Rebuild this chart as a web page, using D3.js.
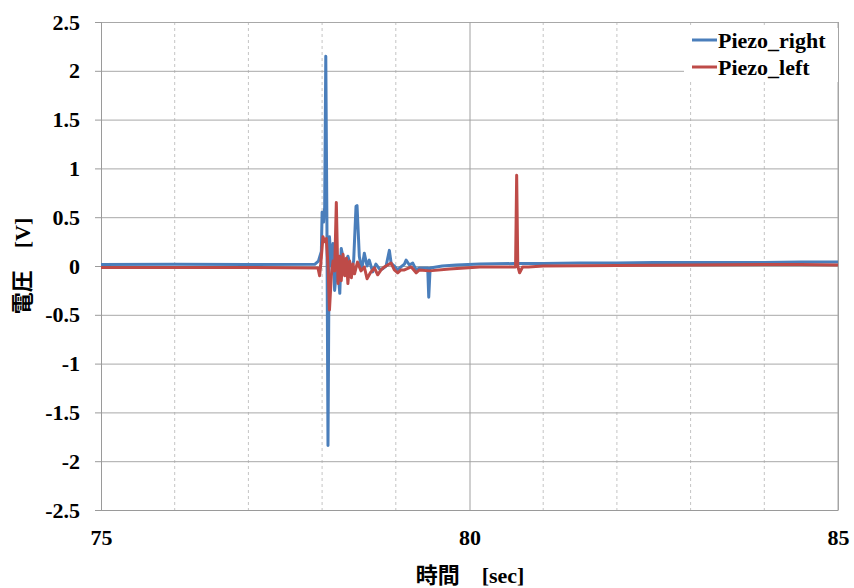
<!DOCTYPE html>
<html>
<head>
<meta charset="utf-8">
<script src="https://cdn.jsdelivr.net/npm/d3@7"></script>
<style>
  body { margin: 0; background: #fff; }
  svg { display: block; }
  text { font-family: "Liberation Serif", "Noto Sans CJK JP", serif; font-weight: bold; fill: #000; }
</style>
</head>
<body>
<svg></svg>
<script>
// series names
let seriesNames = ["Piezo_right", "Piezo_left"];

// Piezo_right : time [sec], voltage [V]
let rightTime = [75, 76, 77, 77.9, 77.95, 77.99, 78.0, 78.02, 78.035, 78.05, 78.065, 78.08, 78.095, 78.1, 78.125, 78.148, 78.17, 78.207, 78.24, 78.26, 78.306, 78.35, 78.397, 78.428, 78.46, 78.474, 78.505, 78.537, 78.573, 78.61, 78.64, 78.686, 78.73, 78.777, 78.82, 78.868, 78.913, 78.936, 78.98, 79.026, 79.07, 79.117, 79.14, 79.185, 79.23, 79.276, 79.32, 79.433, 79.447, 79.466, 79.63, 79.82, 80.14, 80.6, 81, 81.5, 82, 82.5, 83, 83.5, 84, 84.5, 85];
let rightVolt = [0.015, 0.017, 0.015, 0.017, 0.05, 0.15, 0.55, 0.45, 0.6, 2.15, 0.5, -1.84, 0.1, 0.3, 0.0, 0.23, -0.25, 0.05, -0.28, 0.18, 0.0, 0.1, -0.04, 0.05, 0.61, 0.62, 0.1, -0.04, 0.13, 0.0, 0.06, -0.06, 0.02, -0.03, -0.03, 0.0, 0.16, 0.03, 0.0, -0.04, -0.01, 0.02, 0.06, 0.01, 0.03, -0.04, -0.02, -0.02, -0.32, -0.02, 0.0, 0.01, 0.02, 0.025, 0.025, 0.03, 0.03, 0.035, 0.035, 0.035, 0.035, 0.04, 0.04];

// Piezo_left : time [sec], voltage [V]
let leftTime = [75, 76, 77, 77.944, 77.966, 77.98, 78.012, 78.034, 78.057, 78.08, 78.1, 78.125, 78.148, 78.17, 78.193, 78.216, 78.24, 78.26, 78.284, 78.306, 78.33, 78.35, 78.374, 78.397, 78.42, 78.44, 78.48, 78.528, 78.573, 78.61, 78.655, 78.71, 78.754, 78.8, 78.845, 78.89, 78.936, 78.98, 79.026, 79.07, 79.117, 79.21, 79.276, 79.32, 79.457, 79.728, 80.14, 80.6, 80.625, 80.64, 80.655, 80.68, 80.72, 80.8, 81, 82, 83, 84, 84.5, 85];
let leftVolt = [-0.015, -0.015, -0.015, -0.02, -0.1, 0.0, 0.3, 0.25, 0.28, 0.0, -0.45, -0.1, 0.05, -0.05, 0.65, -0.18, 0.1, -0.15, 0.12, -0.1, 0.08, -0.18, 0.05, -0.12, 0.02, -0.08, 0.04, -0.05, -0.01, -0.13, -0.07, -0.02, -0.09, -0.04, -0.01, 0.01, 0.03, -0.04, -0.07, -0.04, -0.04, -0.01, -0.07, -0.04, -0.05, -0.03, -0.01, -0.01, -0.01, 0.93, 0.0, -0.07, -0.01, -0.01, 0.0, 0.005, 0.01, 0.015, 0.015, 0.01];

let xTicks = [75, 80, 85];
let xMinor = [76, 77, 78, 79, 81, 82, 83, 84];
let yTicks = [-2.5, -2, -1.5, -1, -0.5, 0, 0.5, 1, 1.5, 2, 2.5];

let width = 854, height = 588,
    plotLeft = 101, plotRight = 838, plotTop = 22, plotBottom = 510,
    colors = ["#4a7ebb", "#be4b48"];

let xScale = d3.scaleLinear().domain([75, 85]).range([plotLeft, plotRight]),
    yScale = d3.scaleLinear().domain([-2.5, 2.5]).range([plotBottom, plotTop]);

let svg = d3.select("svg").attr("width", width).attr("height", height);

// minor vertical grid (dashed)
svg.append("g")
  .selectAll("line")
  .data(xMinor)
  .enter().append("line")
  .attr("x1", d => xScale(d)).attr("x2", d => xScale(d))
  .attr("y1", plotTop).attr("y2", plotBottom)
  .attr("stroke", "#c4c4c4").attr("stroke-dasharray", "3,3");

// horizontal grid
svg.append("g")
  .attr("transform", `translate(${plotLeft},0)`)
  .call(d3.axisLeft(yScale).tickValues(yTicks).tickSize(-(plotRight - plotLeft)).tickFormat(""))
  .call(g => g.select(".domain").remove())
  .selectAll("line").attr("stroke", "#a8a8a8");

// major vertical grid
svg.append("g")
  .attr("transform", `translate(0,${plotBottom})`)
  .call(d3.axisBottom(xScale).tickValues(xTicks).tickSize(-(plotBottom - plotTop)).tickFormat(""))
  .call(g => g.select(".domain").remove())
  .selectAll("line").attr("stroke", "#a0a0a0");

// axes
let yAxis = svg.append("g")
  .attr("transform", `translate(${plotLeft},0)`)
  .call(d3.axisLeft(yScale).tickValues(yTicks).tickSize(6).tickPadding(15).tickFormat(d => d))
  .attr("font-family", null).attr("font-size", 22);
yAxis.select(".domain").attr("stroke", "#9a9a9a");
yAxis.selectAll("line").attr("stroke", "#9a9a9a");

let xAxis = svg.append("g")
  .attr("transform", `translate(0,${plotBottom})`)
  .call(d3.axisBottom(xScale).tickValues(xTicks).tickSize(0).tickPadding(19))
  .attr("font-family", null).attr("font-size", 22);
xAxis.select(".domain").attr("stroke", "#9a9a9a");

// right border
svg.append("line")
  .attr("x1", plotRight).attr("x2", plotRight).attr("y1", plotTop).attr("y2", plotBottom)
  .attr("stroke", "#a8a8a8");

// lines
let line = d3.line().x(d => xScale(d[0])).y(d => yScale(d[1]));
let series = [d3.zip(rightTime, rightVolt), d3.zip(leftTime, leftVolt)];

series.forEach((s, i) => {
  svg.append("path")
    .datum(s)
    .attr("d", line)
    .attr("fill", "none")
    .attr("stroke", colors[i])
    .attr("stroke-width", 3)
    .attr("stroke-linejoin", "round");
});

// legend
let legend = svg.append("g");
legend.append("rect")
  .attr("x", 684).attr("y", 28).attr("width", plotRight - 684).attr("height", 54)
  .attr("fill", "#fff");
seriesNames.forEach((name, i) => {
  let y = 40 + i * 27;
  legend.append("line")
    .attr("x1", 692).attr("x2", 717).attr("y1", y).attr("y2", y)
    .attr("stroke", colors[i]).attr("stroke-width", 3);
  legend.append("text")
    .attr("x", 718).attr("y", y).attr("dy", "0.35em")
    .attr("font-size", 22)
    .text(name);
});

// axis titles
svg.append("text")
  .attr("x", 470).attr("y", 583)
  .attr("text-anchor", "middle")
  .attr("font-size", 22)
  .text("時間　[sec]");

svg.append("text")
  .attr("transform", `translate(30,266) rotate(-90)`)
  .attr("text-anchor", "middle")
  .attr("font-size", 22)
  .text("電圧　[V]");
</script>
</body>
</html>
